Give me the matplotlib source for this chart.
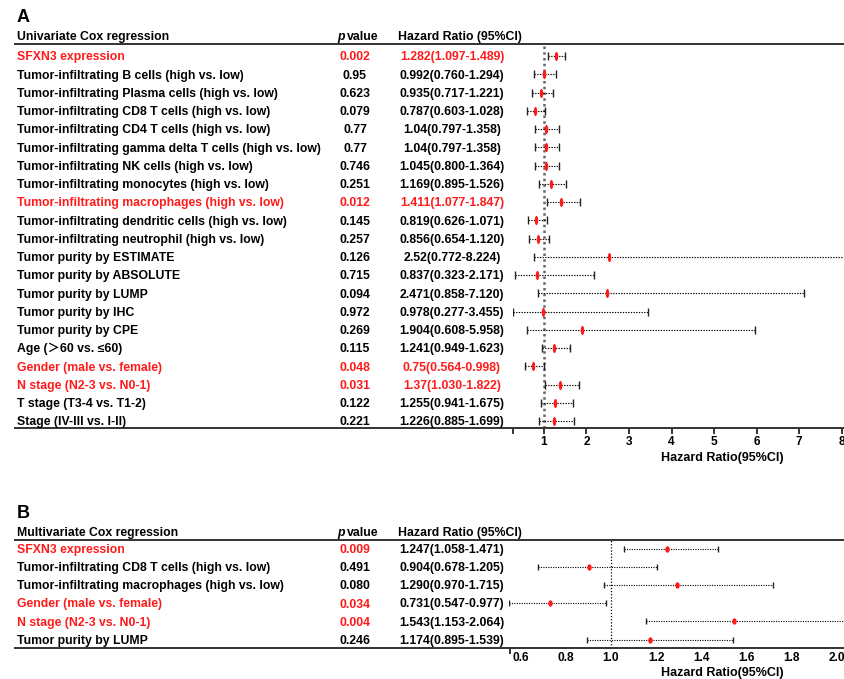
import numpy as np
import matplotlib
matplotlib.use('Agg')
from matplotlib import pyplot as plt
from matplotlib.transforms import blended_transform_factory, offset_copy

# ---- panel A: univariate Cox regression
uni_labels = ['SFXN3 expression',
              'Tumor-infiltrating B cells (high vs. low)',
              'Tumor-infiltrating Plasma cells (high vs. low)',
              'Tumor-infiltrating CD8 T cells (high vs. low)',
              'Tumor-infiltrating CD4 T cells (high vs. low)',
              'Tumor-infiltrating gamma delta T cells (high vs. low)',
              'Tumor-infiltrating NK cells (high vs. low)',
              'Tumor-infiltrating monocytes (high vs. low)',
              'Tumor-infiltrating macrophages (high vs. low)',
              'Tumor-infiltrating dendritic cells (high vs. low)',
              'Tumor-infiltrating neutrophil (high vs. low)',
              'Tumor purity by ESTIMATE',
              'Tumor purity by ABSOLUTE',
              'Tumor purity by LUMP',
              'Tumor purity by IHC',
              'Tumor purity by CPE',
              'Age (\uff1e60 vs. \u226460)',
              'Gender (male vs. female)',
              'N stage (N2-3 vs. N0-1)',
              'T stage (T3-4 vs. T1-2)',
              'Stage (IV-III vs. I-II)']
uni_p = ['0.002', '0.95', '0.623', '0.079', '0.77', '0.77', '0.746', '0.251', '0.012',
         '0.145', '0.257', '0.126', '0.715', '0.094', '0.972', '0.269', '0.115', '0.048',
         '0.031', '0.122', '0.221']
uni_hr = ['1.282', '0.992', '0.935', '0.787', '1.04', '1.04', '1.045', '1.169', '1.411',
          '0.819', '0.856', '2.52', '0.837', '2.471', '0.978', '1.904', '1.241', '0.75',
          '1.37', '1.255', '1.226']
uni_lo = [1.097, 0.760, 0.717, 0.603, 0.797, 0.797, 0.800, 0.895, 1.077, 0.626, 0.654,
          0.772, 0.323, 0.858, 0.277, 0.608, 0.949, 0.564, 1.030, 0.941, 0.885]
uni_hi = [1.489, 1.294, 1.221, 1.028, 1.358, 1.358, 1.364, 1.526, 1.847, 1.071, 1.120,
          8.224, 2.171, 7.120, 3.455, 5.958, 1.623, 0.998, 1.822, 1.675, 1.699]

# ---- panel B: multivariate Cox regression
multi_labels = ['SFXN3 expression',
                'Tumor-infiltrating CD8 T cells (high vs. low)',
                'Tumor-infiltrating macrophages (high vs. low)',
                'Gender (male vs. female)',
                'N stage (N2-3 vs. N0-1)',
                'Tumor purity by LUMP']
multi_p = ['0.009', '0.491', '0.080', '0.034', '0.004', '0.246']
multi_hr = ['1.247', '0.904', '1.290', '0.731', '1.543', '1.174']
multi_lo = [1.058, 0.678, 0.970, 0.547, 1.153, 0.895]
multi_hi = [1.471, 1.205, 1.715, 0.977, 2.064, 1.539]

uni_ticks = [1, 2, 3, 4, 5, 6, 7, 8]
multi_ticks = [0.6, 0.8, 1.0, 1.2, 1.4, 1.6, 1.8, 2.0]

RED = '#ff1a1a'
W, H = 845, 679
plt.rcParams['font.family'] = ['Liberation Sans', 'DejaVu Sans', 'Noto Sans CJK SC']
plt.rcParams['font.weight'] = 'bold'
FS = 8.8
CAP = 4.4  # half cap height in px, to centre capitals on a row

fig = plt.figure(figsize=(W / 100, H / 100), dpi=100)


def fx(px):
    return px / W


def fy(py):
    return 1 - py / H


def rule(py):
    fig.add_artist(plt.Line2D([fx(15), fx(845)], [fy(py), fy(py)], color='#333333', lw=1.4,
                              transform=fig.transFigure))


def ellipse(ratio):
    t = np.linspace(0, 2 * np.pi, 40)
    return np.column_stack([ratio * np.cos(t), np.sin(t)])


def panel(letter, title, labels, pvals, hrs, lo, hi, top, row0, step, bottom,
          left_px, xmin, xmax, ticks, tick_labels, small):
    n = len(labels)
    ax = fig.add_axes([fx(left_px), fy(bottom), (845 - left_px) / W, (bottom - top) / H])
    ax.set_xlim(xmin, xmax)
    ax.set_ylim((n - 1) + (bottom - (row0 + (n - 1) * step)) / step, -(row0 - top) / step)
    for s in ax.spines.values():
        s.set_visible(False)
    ax.set_yticks([])

    y = np.arange(n)
    hr = np.array([float(h) for h in hrs])
    if small:
        ax.axvline(1, color='black', ls=(0, (1, 1.5)), lw=0.9)
        ax.hlines(y, lo, hi, color='black', ls=(0, (1, 1.2)), lw=0.8)
        ax.plot(lo, y, ls='none', marker='|', ms=4, mew=1.0, color='#222222')
        ax.plot(hi, y, ls='none', marker='|', ms=4, mew=1.0, color='#222222')
        ax.plot(hr, y, ls='none', marker=ellipse(0.7), ms=4.6, color=RED, mew=0)
    else:
        ax.axvline(1, color='#666666', ls=(0, (1, 1.3)), lw=1.8)
        ax.hlines(y, lo, hi, color='black', ls=(0, (1.2, 1.2)), lw=0.8)
        ax.plot(lo, y, ls='none', marker='|', ms=6, mew=1.0, color='#222222')
        ax.plot(hi, y, ls='none', marker='|', ms=6, mew=1.0, color='#222222')
        ax.plot(hr, y, ls='none', marker=ellipse(0.38), ms=6.6, color=RED, mew=0)

    ax.set_xticks(ticks)
    ax.set_xticklabels(tick_labels, fontsize=8.6, fontweight='bold')
    if small:
        ax.tick_params(axis='x', length=0, pad=2.5)
        ax.set_xticks([xmin + 0.003], minor=True)
        ax.tick_params(axis='x', which='minor', length=4, width=1.1)
    else:
        ax.set_xticks([xmin + 0.01], minor=True)
        ax.tick_params(axis='x', which='both', length=4, width=1.1, pad=2)

    rule(top)
    rule(bottom)

    tr = offset_copy(blended_transform_factory(fig.transFigure, ax.transData),
                     fig=fig, y=-CAP, units='dots')
    for i in range(n):
        c = RED if float(pvals[i]) < 0.05 else 'black'
        fig.text(fx(17), i, labels[i], transform=tr, color=c, fontsize=FS, va='baseline')
        fig.text(fx(355), i, pvals[i], transform=tr, color=c, fontsize=FS,
                 va='baseline', ha='center')
        hr_txt = f'{hrs[i]}({lo[i]:.3f}-{hi[i]:.3f})'
        fig.text(fx(452), i, hr_txt, transform=tr, color=c if not small else 'black',
                 fontsize=FS, va='baseline', ha='center')

    head_y = fy(top - 8 + CAP)
    fig.text(fx(17), fy(top - 26), letter, fontsize=13, fontweight='bold', va='center')
    fig.text(fx(17), head_y, title, fontsize=FS, va='baseline')
    fig.text(fx(337), head_y, 'p', fontsize=FS, va='baseline', fontstyle='italic')
    fig.text(fx(347), head_y, 'value', fontsize=FS, va='baseline')
    fig.text(fx(398), head_y, 'Hazard Ratio (95%CI)', fontsize=FS, va='baseline')
    return ax


panel('A', 'Univariate Cox regression', uni_labels, uni_p, uni_hr, uni_lo, uni_hi,
      top=44, row0=56, step=18.25, bottom=428, left_px=512.7, xmin=0.265, xmax=8.08,
      ticks=uni_ticks, tick_labels=[str(t) for t in uni_ticks], small=False)
fig.text(fx(722), fy(457 + CAP), 'Hazard Ratio(95%CI)', fontsize=9, va='baseline', ha='center')

panel('B', 'Multivariate Cox regression', multi_labels, multi_p, multi_hr, multi_lo, multi_hi,
      top=540, row0=548.5, step=18.2, bottom=648.3, left_px=509.3, xmin=0.55, xmax=2.035,
      ticks=multi_ticks, tick_labels=[f'{t:.1f}' for t in multi_ticks], small=True)
fig.text(fx(722), fy(672 + CAP), 'Hazard Ratio(95%CI)', fontsize=9, va='baseline', ha='center')

fig.savefig('out.png', dpi=100)
